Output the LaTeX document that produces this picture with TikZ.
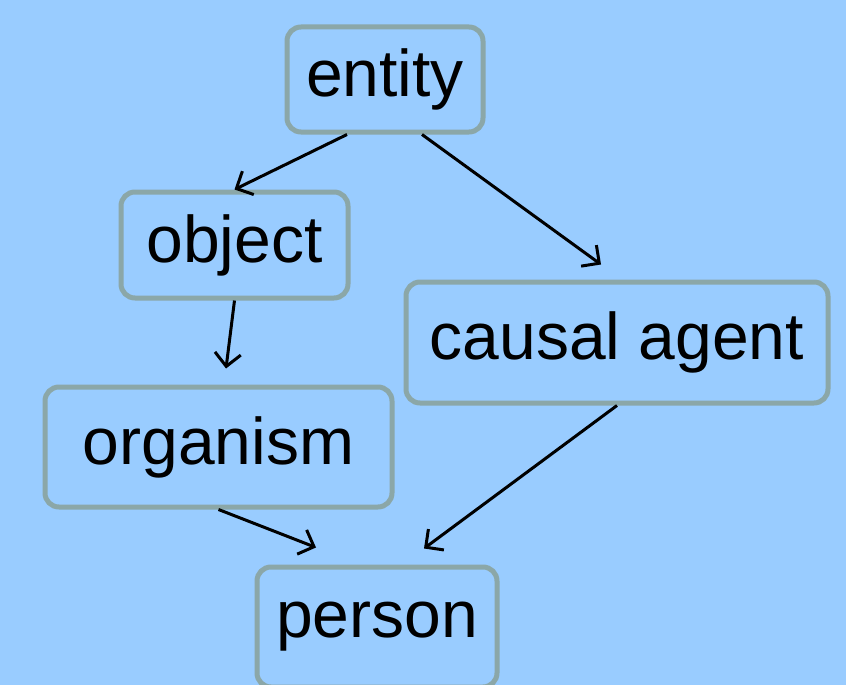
\documentclass[tikz,border=0pt]{standalone}
\usepackage{fontspec}
\setmainfont{Liberation Sans}
\usetikzlibrary{arrows.meta}
\definecolor{skyback}{HTML}{99CCFF}
\definecolor{boxline}{HTML}{8BA7A8}
\tikzset{
  concept/.style={draw=boxline, line width=5pt, rounded corners=14pt, fill=skyback,
    inner sep=0pt, font=\fontsize{66}{79}\selectfont},
  isa/.style={line width=3pt, -{Straight Barb[length=13pt,width=26pt]}}
}
\begin{document}
\begin{tikzpicture}[x=1pt, y=-1pt]
    \fill[skyback] (0, 0) rectangle (846, 685);
    \useasboundingbox (0, 0) rectangle (846, 685);
    \node[concept, minimum width=196pt, minimum height=105pt] (entity) at (385, 79.5) {entity};
    \node[concept, minimum width=227pt, minimum height=106pt] (object) at (234.5, 245) {object};
    \node[concept, minimum width=422pt, minimum height=121pt] (agent) at (617, 342.5) {causal agent};
    \node[concept, minimum width=347pt, minimum height=120pt] (organism) at (218.5, 447) {organism};
    \node[concept, minimum width=240pt, minimum height=120pt] (person) at (377, 627) {person};
    \draw[isa] ([xshift=-38pt]entity.south) -- (object.north);
    \draw[isa] ([xshift=37pt]entity.south) -- ([xshift=-16pt, yshift=15pt]agent.north);
    \draw[isa] (object.south) -- ([xshift=7.5pt, yshift=16pt]organism.north);
    \draw[isa] (organism.south) -- ([xshift=-61pt, yshift=17pt]person.north);
    \draw[isa] (agent.south) -- ([xshift=47pt, yshift=16pt]person.north);
  \end{tikzpicture}
\end{document}
